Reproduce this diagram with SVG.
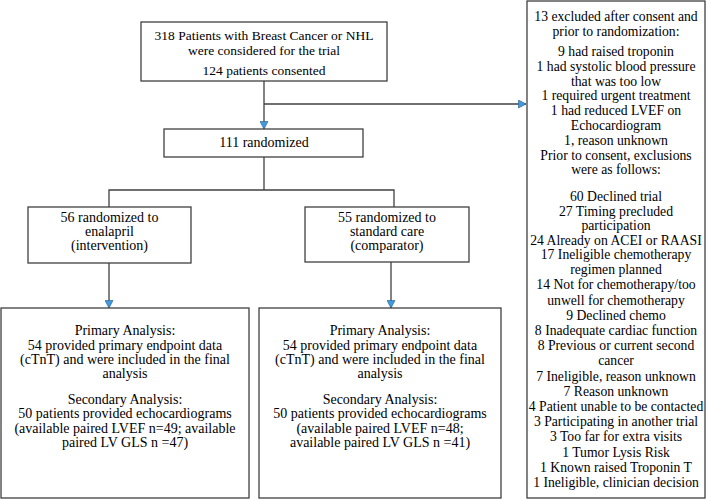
<svg xmlns="http://www.w3.org/2000/svg" width="707" height="500" viewBox="0 0 707 500">
<defs>
<style>
.box{fill:#ffffff;stroke:#404040;stroke-width:1.3}
.t{font-family:"Liberation Serif","Times New Roman",serif;font-size:14px;fill:#000;text-anchor:middle}
.s{font-size:13.5px}
.x{font-size:13.7px}
.c{fill:none;stroke:#404040;stroke-width:1.3}
</style>
<marker id="arr" markerUnits="userSpaceOnUse" markerWidth="9" markerHeight="9" viewBox="0 0 9 9" refX="8" refY="4.5" orient="auto">
<path d="M0.5,0.5 L8,4.5 L0.5,8.5 Z" fill="#3f9be0" stroke="#2a5a80" stroke-width="0.6"/>
</marker>
</defs>
<rect width="707" height="500" fill="#ffffff"/>
<g id="connectors">
<path class="c" d="M264,81 V129" marker-end="url(#arr)"/>
<path class="c" d="M264,104 H526" marker-end="url(#arr)"/>
<path class="c" d="M264,157 V190"/>
<path class="c" d="M109,207 V190 H394 V207"/>
<path class="c" d="M109,263 V308" marker-end="url(#arr)"/>
<path class="c" d="M391,262 V308" marker-end="url(#arr)"/>
</g>
<g id="screened">
<rect class="box" x="141" y="22" width="246" height="59"/>
<text class="t s" x="264" y="40">318 Patients with Breast Cancer or NHL</text>
<text class="t s" x="264" y="55">were considered for the trial</text>
<text class="t s" x="264" y="75">124 patients consented</text>
</g>
<g id="randomized">
<rect class="box" x="164" y="129" width="199" height="28"/>
<text class="t" x="264" y="147">111 randomized</text>
</g>
<g id="enalapril">
<rect class="box" x="28" y="207" width="163" height="56"/>
<text class="t" x="109.5" y="222">56 randomized to</text>
<text class="t" x="109.5" y="236">enalapril</text>
<text class="t" x="109.5" y="250">(intervention)</text>
</g>
<g id="standard">
<rect class="box" x="305" y="207" width="164" height="55"/>
<text class="t" x="387" y="222">55 randomized to</text>
<text class="t" x="387" y="236">standard care</text>
<text class="t" x="387" y="250">(comparator)</text>
</g>
<g id="analysis-enalapril">
<rect class="box" x="1" y="308" width="248" height="190"/>
<text class="t" x="125" y="335">Primary Analysis:</text>
<text class="t" x="125" y="350">54 provided primary endpoint data</text>
<text class="t" x="125" y="364">(cTnT) and were included in the final</text>
<text class="t" x="125" y="378">analysis</text>
<text class="t" x="125" y="404">Secondary Analysis:</text>
<text class="t" x="125" y="418">50 patients provided echocardiograms</text>
<text class="t" x="125" y="433">(available paired LVEF n=49; available</text>
<text class="t" x="125" y="447">paired LV GLS n =47)</text>
</g>
<g id="analysis-standard">
<rect class="box" x="259" y="308" width="242" height="190"/>
<text class="t" x="380" y="335">Primary Analysis:</text>
<text class="t" x="380" y="350">54 provided primary endpoint data</text>
<text class="t" x="380" y="364">(cTnT) and were included in the final</text>
<text class="t" x="380" y="378">analysis</text>
<text class="t" x="380" y="404">Secondary Analysis:</text>
<text class="t" x="380" y="418">50 patients provided echocardiograms</text>
<text class="t" x="380" y="433">(available paired LVEF n=48;</text>
<text class="t" x="380" y="447">available paired LV GLS n =41)</text>
</g>
<g id="excluded">
<rect class="box" x="527" y="1" width="178" height="497"/>
<text class="t x" x="616" y="21">13 excluded after consent and</text>
<text class="t x" x="616" y="35.5">prior to randomization:</text>
<text class="t x" x="616" y="56">9 had raised troponin</text>
<text class="t x" x="616" y="70.8">1 had systolic blood pressure</text>
<text class="t x" x="616" y="85.6">that was too low</text>
<text class="t x" x="616" y="100.4">1 required urgent treatment</text>
<text class="t x" x="616" y="115.2">1 had reduced LVEF on</text>
<text class="t x" x="616" y="130">Echocardiogram</text>
<text class="t x" x="616" y="144.8">1, reason unknown</text>
<text class="t x" x="616" y="159.6">Prior to consent, exclusions</text>
<text class="t x" x="616" y="174.4">were as follows:</text>
<text class="t x" x="616" y="201">60 Declined trial</text>
<text class="t x" x="616" y="215.5">27 Timing precluded</text>
<text class="t x" x="616" y="230">participation</text>
<text class="t x" x="616" y="244.5">24 Already on ACEI or RAASI</text>
<text class="t x" x="616" y="259">17 Ineligible chemotherapy</text>
<text class="t x" x="616" y="274.2">regimen planned</text>
<text class="t x" x="616" y="289.4">14 Not for chemotherapy/too</text>
<text class="t x" x="616" y="304.6">unwell for chemotherapy</text>
<text class="t x" x="616" y="319.8">9 Declined chemo</text>
<text class="t x" x="616" y="335">8 Inadequate cardiac function</text>
<text class="t x" x="616" y="350.2">8 Previous or current second</text>
<text class="t x" x="616" y="365.4">cancer</text>
<text class="t x" x="616" y="380.6">7 Ineligible, reason unknown</text>
<text class="t x" x="616" y="395.8">7 Reason unknown</text>
<text class="t x" x="616" y="411">4 Patient unable to be contacted</text>
<text class="t x" x="616" y="426.2">3 Participating in another trial</text>
<text class="t x" x="616" y="441.4">3 Too far for extra visits</text>
<text class="t x" x="616" y="456.6">1 Tumor Lysis Risk</text>
<text class="t x" x="616" y="471.8">1 Known raised Troponin T</text>
<text class="t x" x="616" y="487">1 Ineligible, clinician decision</text>
</g>
</svg>
